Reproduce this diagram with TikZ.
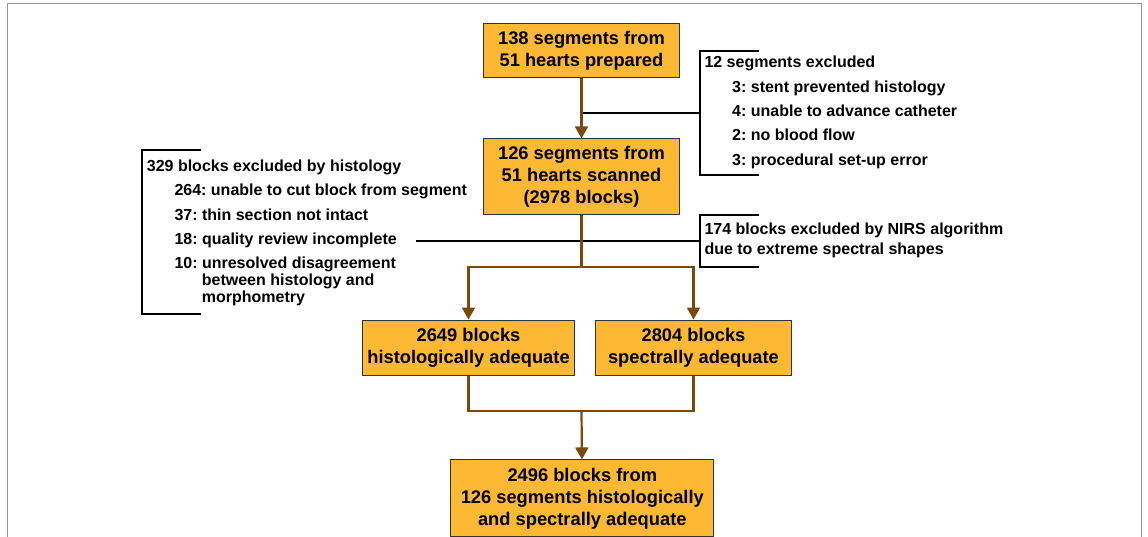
\documentclass[tikz,border=0pt]{standalone}
\usepackage{fontspec}
\setmainfont{Liberation Sans}
\usetikzlibrary{arrows.meta}
\definecolor{boxorange}{RGB}{253,185,51}
\definecolor{flowbrown}{RGB}{122,74,12}
\definecolor{framegray}{RGB}{150,150,150}
\frenchspacing

\begin{document}
\begin{tikzpicture}[x=1pt,y=-1pt,box/.style={draw=black!80,fill=boxorange,line width=1pt,align=center,inner sep=0pt,font=\fontsize{18.3}{22}\selectfont\bfseries},note/.style={anchor=west,inner sep=0pt,font=\fontsize{16}{17}\selectfont\bfseries,text height=11.6pt,text depth=3.4pt},flow/.style={-{Triangle[width=13pt,length=12pt]},line width=2.2pt,draw=flowbrown},link/.style={line width=2.2pt,draw=flowbrown},excl/.style={line width=2.2pt,draw=black}]

\useasboundingbox (0,0) rectangle (1148,537);
\draw[framegray,line width=1pt] (7.5,537) -- (7.5,4) -- (1141,4) -- (1141,537);

% main boxes
\node[box,minimum width=196pt,minimum height=54.4pt] (prep) at(581.5,50.8) {138 segments from\\51 hearts prepared};
\node[box,minimum width=195.4pt,minimum height=76pt] (scan) at(581.5,177) {126 segments from\\51 hearts scanned\\(2978 blocks)};
\node[box,minimum width=212.7pt,minimum height=55.3pt] (histo) at(468.5,347.7) {2649 blocks\\histologically adequate};
\node[box,minimum width=196.4pt,minimum height=55.3pt] (spec) at(693.5,347.7) {2804 blocks\\spectrally adequate};
\node[box,minimum width=263.3pt,minimum height=76.7pt] (final) at(582.3,498.3) {2496 blocks from\\126 segments histologically\\and spectrally adequate};

% exclusions
\node[note] (segx) at(704.3,63.3) {12 segments excluded};
\node[note] (segx1) at(732,88.3) {3: stent prevented histology};
\node[note] (segx2) at(732,112.7) {4: unable to advance catheter};
\node[note] (segx3) at(732,136.7) {2: no blood flow};
\node[note] (segx4) at(732,161) {3: procedural set-up error};

\node[note] (hisx) at(146.7,167) {329 blocks excluded by histology};
\node[note] (hisx1) at(174.3,191.7) {264: unable to cut block from segment};
\node[note] (hisx2) at(174.3,216) {37: thin section not intact};
\node[note] (hisx3) at(174.3,240) {18: quality review incomplete};
\node[note] (hisx4) at(174.3,264.3) {10: unresolved disagreement};
\node[note] (hisx5) at(201.7,281.7) {between histology and};
\node[note] (hisx6) at(201.7,298.3) {morphometry};

\node[note] (nirx) at(704.3,230.7) {174 blocks excluded by NIRS algorithm};
\node[note] (nirx1) at(704.3,250.7) {due to extreme spectral shapes};

% brackets
\coordinate (segt) at(759,50.7);\coordinate (segm) at(700,113);\coordinate (segb) at(759,175);
\coordinate (hist) at(201,150);\coordinate (hism) at(416,241);\coordinate (hisb) at(201,314);
\coordinate (nirt) at(759,215);\coordinate (nirm) at(700,241);\coordinate (nirb) at(759,266.7);
\draw[excl] (segt) -| (segm) |- (segb);
\draw[excl] (segm) -- (prep.south |- segm);
\draw[excl] (hist) -| (142.3,232) |- (hisb);
\draw[excl] (nirt) -| (nirm) |- (nirb);
\draw[excl] (hism) -- (nirm);

% flow
\coordinate (split) at(581.5,266.7);
\coordinate (merge) at(581.5,411);
\draw[flow] (prep) -- (scan);
\draw[link] (scan) -- (split);
\draw[flow] (split) -| (histo.north);
\draw[flow] (split) -| (spec.north);
\draw[link] (histo.south) |- (merge) -| (spec.south);
\draw[flow] (merge) -- (final);
\end{tikzpicture}
\end{document}
